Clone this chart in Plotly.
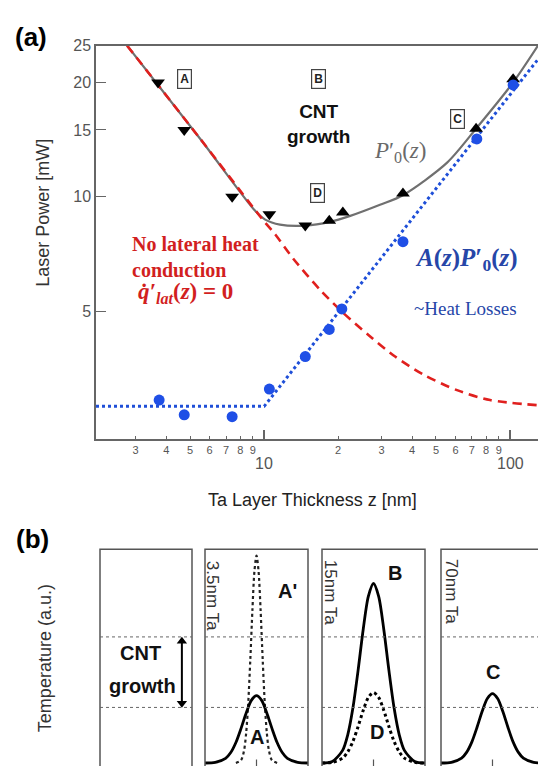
import plotly.graph_objects as go

W, H = 538, 766
SANS = "Liberation Sans, Arial, sans-serif"
SERIF = "Liberation Serif, Times New Roman, serif"

# ---------------- Panel (a) data ----------------
down_x = [3.7, 4.73, 7.41, 10.5, 14.7]
down_y = [20.0, 15.0, 10.0, 9.0, 8.4]
up_x = [18.4, 20.9, 36.7, 72.8, 103.0]
up_y = [8.65, 9.1, 10.2, 15.1, 20.4]
blue_x = [3.74, 4.73, 7.41, 10.5, 14.7, 18.4, 20.7, 36.7, 73.3, 103.0]
blue_y = [2.92, 2.67, 2.64, 3.12, 3.80, 4.48, 5.07, 7.62, 14.2, 19.7]
p0_x = [2.77, 5.5, 9.19, 10.1, 11.6, 14.7, 18.5, 22.4, 29.6, 36.7, 55.5, 73.3, 103.0, 130.0]
p0_y = [25.0, 14.2, 9.19, 8.71, 8.45, 8.40, 8.59, 8.91, 9.53, 10.1, 12.3, 15.2, 20.0, 25.0]
nolat_x = [2.77, 5.5, 9.81, 11.1, 13.1, 16.9, 20.7, 27.0, 34.1, 44.3, 60.9, 83.0, 130.0]
nolat_y = [25.0, 14.2, 8.75, 7.96, 6.89, 5.69, 4.99, 4.29, 3.80, 3.41, 3.10, 2.92, 2.83]
loss_x = [2.07, 10.0, 130.0]
loss_y = [2.81, 2.81, 23.0]

x_minor_vals = [3, 4, 5, 6, 7, 8, 9, 20, 30, 40, 50, 60, 70, 80, 90]
x_minor_text = ["3", "4", "5", "6", "7", "8", "9", "2", "3", "4", "5", "6", "7", "8", "9"]
x_major_vals = [10, 100]
y_tick_vals = [5, 10, 15, 20, 25]

# ---------------- Panel (b) data ----------------
temp_x = [0, 10, 20, 25, 30, 35, 40, 45, 50, 55, 60, 65, 70, 75, 80, 90, 100]
temp_A = [0, 0.3, 2.2, 4.9, 9.6, 16.2, 23.4, 29.3, 31.5, 29.3, 23.4, 16.2, 9.6, 4.9, 2.2, 0.3, 0]
temp_B = [0, 0.7, 5.9, 13.2, 25.7, 43.2, 62.5, 78.0, 84.0, 78.0, 62.5, 43.2, 25.7, 13.2, 5.9, 0.7, 0]
temp_D = [0, 0.3, 2.3, 5.2, 10.1, 17.0, 24.6, 30.7, 33.0, 30.7, 24.6, 17.0, 10.1, 5.2, 2.3, 0.3, 0]
temp_C = [0, 0.3, 2.3, 5.1, 9.9, 16.7, 24.2, 30.2, 32.5, 30.2, 24.2, 16.7, 9.9, 5.1, 2.3, 0.3, 0]
aprime_x = [30, 35, 38, 40, 42, 44, 46, 48, 50, 52, 54, 56, 58, 60, 62, 65, 70]
aprime_y = [0, 1.3, 6.1, 14.2, 28.3, 48.5, 71.3, 89.8, 97.0, 89.8, 71.3, 48.5, 28.3, 14.2, 6.1, 1.3, 0]
growth_levels = [26, 59]
box_center = 50
arrow_x = [89, 89]
arrow_y = [57, 28]


def P(px, py):
    return px / W, 1 - py / H


def dom(a, b):
    return [a / W, min(b / W, 1.0)]


fig = go.Figure()

# --- panel (a) traces ---
fig.add_trace(go.Scatter(x=p0_x, y=p0_y, mode="lines", line=dict(color="#707070", width=2.2, shape="spline", smoothing=0.8), xaxis="x", yaxis="y"))
fig.add_trace(go.Scatter(x=nolat_x, y=nolat_y, mode="lines", line=dict(color="#e0201e", width=2.6, dash="9px,6px", shape="spline", smoothing=0.8), xaxis="x", yaxis="y"))
fig.add_trace(go.Scatter(x=loss_x, y=loss_y, mode="lines", line=dict(color="#1f4fd8", width=3, dash="dot"), xaxis="x", yaxis="y"))
fig.add_trace(go.Scatter(x=down_x, y=down_y, mode="markers", marker=dict(symbol="triangle-down", size=12, color="black"), xaxis="x", yaxis="y"))
fig.add_trace(go.Scatter(x=up_x, y=up_y, mode="markers", marker=dict(symbol="triangle-up", size=12, color="black"), xaxis="x", yaxis="y"))
fig.add_trace(go.Scatter(x=blue_x, y=blue_y, mode="markers", marker=dict(symbol="circle", size=11, color="#1f4fe6"), xaxis="x", yaxis="y"))

# --- panel (b) traces ---
sol = dict(color="black", width=2.8, shape="spline", smoothing=0.8)
fig.add_trace(go.Scatter(x=aprime_x, y=aprime_y, mode="lines", line=dict(color="#222", width=2.2, dash="dot", shape="spline", smoothing=0.8), xaxis="x3", yaxis="y3"))
fig.add_trace(go.Scatter(x=temp_x, y=temp_A, mode="lines", line=sol, xaxis="x3", yaxis="y3"))
fig.add_trace(go.Scatter(x=temp_x, y=temp_D, mode="lines", line=dict(color="black", width=3, dash="dot", shape="spline", smoothing=0.8), xaxis="x4", yaxis="y4"))
fig.add_trace(go.Scatter(x=temp_x, y=temp_B, mode="lines", line=sol, xaxis="x4", yaxis="y4"))
fig.add_trace(go.Scatter(x=temp_x, y=temp_C, mode="lines", line=sol, xaxis="x5", yaxis="y5"))
fig.add_trace(go.Scatter(x=arrow_x, y=arrow_y, mode="lines+markers", line=dict(color="black", width=2),
                         marker=dict(symbol=["triangle-up", "triangle-down"], size=9, color="black"),
                         xaxis="x2", yaxis="y2"))

layout = dict(
    width=W, height=H, margin=dict(l=0, r=0, t=0, b=0),
    paper_bgcolor="white", plot_bgcolor="white", showlegend=False,
    xaxis=dict(type="log", domain=dom(96, 538), range=[0.316, 2.114], anchor="y",
               tickmode="array", tickvals=x_minor_vals, ticktext=x_minor_text,
               ticks="inside", ticklen=4, tickcolor="#666", tickwidth=1,
               tickfont=dict(family=SANS, size=11, color="#555"),
               minor=dict(tickmode="array", tickvals=x_major_vals, ticks="inside", ticklen=10, tickcolor="#666", tickwidth=1.5),
               showline=True, linecolor="#666", linewidth=1.5, mirror=True, showgrid=False, zeroline=False),
    yaxis=dict(type="log", domain=[1 - 436 / H, 1 - 38 / H], range=[0.3617, 1.3979], anchor="x",
               tickmode="array", tickvals=y_tick_vals, ticktext=[str(v) for v in y_tick_vals],
               ticks="inside", ticklen=10, tickcolor="#666", tickwidth=1.2,
               tickfont=dict(family=SANS, size=16, color="#555"),
               showline=True, linecolor="#666", linewidth=1.5, showgrid=False, zeroline=False),
)

boxes = [(2, 100, 192, 100), (3, 205, 308, 100), (4, 322, 425, 100), (5, 441, 538, 94.2)]
shapes = []
for (k, a, b, xr) in boxes:
    layout["xaxis%d" % k] = dict(domain=dom(a, b), range=[0, xr], anchor="y%d" % k, visible=False)
    layout["yaxis%d" % k] = dict(domain=[0, 1 - 547 / H], range=[-1.4, 100], anchor="x%d" % k, visible=False)
    shapes.append(dict(type="rect", xref="x%d domain" % k, yref="y%d domain" % k,
                       x0=0, x1=1 if k < 5 else 1.2, y0=-0.1, y1=1, line=dict(color="#555", width=1.5)))
    for lv in growth_levels:
        shapes.append(dict(type="line", xref="x%d domain" % k, yref="y%d" % k, x0=0, x1=1, y0=lv, y1=lv,
                           line=dict(color="#666", width=1, dash="dot")))
    if k > 2:
        shapes.append(dict(type="line", xref="x%d" % k, yref="y%d domain" % k, x0=box_center, x1=box_center,
                           y0=0, y1=0.03, line=dict(color="#555", width=1.2)))
layout["shapes"] = shapes

ann = []


def T(px, py, text, size, color="black", family=SANS, angle=0, xanchor="center", align="center", **kw):
    x, y = P(px, py)
    d = dict(x=x, y=y, xref="paper", yref="paper", text=text, showarrow=False, textangle=angle,
             xanchor=xanchor, yanchor="middle", align=align, font=dict(family=family, size=size, color=color))
    d.update(kw)
    ann.append(d)


T(31, 29, "<b>(a)</b>", 26)
T(32, 537, "<b>(b)</b>", 26)
T(43, 207, "Laser Power [mW]", 18, "#333", angle=-90)
T(312, 497, "Ta Layer Thickness z [nm]", 18, "#222")
T(264, 460, "10", 16, "#555")
T(510, 460, "100", 16, "#555")
for (px, py, s) in [(184, 72, "A"), (318, 72, "B"), (457, 112, "C"), (317, 187, "D")]:
    T(px, py, "<b>%s</b>" % s, 12, "#222", bordercolor="#444", borderwidth=1.2, borderpad=2, bgcolor="white")
T(318, 117, "<b>CNT<br>growth</b>", 19, "#111")
T(400, 146, "<i>P</i>′<sub>0</sub>(<i>z</i>)", 23, "#6a6a6a", family=SERIF)
T(130, 252, "<b>No lateral heat<br>conduction</b>", 20, "#d21f1f", family=SERIF, xanchor="left", align="left")
T(136, 288, "<b><i>q̇′</i><sub><i>lat</i></sub>(<i>z</i>) = 0</b>", 23, "#d21f1f", family=SERIF, xanchor="left")
T(466, 254, "<b><i>A</i>(<i>z</i>)<i>P</i>′<sub>0</sub>(<i>z</i>)</b>", 25, "#2646a8", family=SERIF)
T(465, 304, "~Heat Losses", 19, "#2646a8", family=SERIF)

T(45, 657, "Temperature (a.u.)", 18, "#333", angle=-90)
T(140, 652, "<b>CNT</b>", 20, "#111")
T(142, 685, "<b>growth</b>", 20, "#111")
T(212, 594, "3.5nm Ta", 17, "#333", angle=90)
T(330, 590, "15nm Ta", 17, "#333", angle=90)
T(451, 589, "70nm Ta", 17, "#333", angle=90)
T(287, 589, "<b>A'</b>", 20, "#111")
T(257, 737, "<b>A</b>", 20, "#111")
T(395, 571, "<b>B</b>", 20, "#111")
T(377, 732, "<b>D</b>", 20, "#111")
T(493, 671, "<b>C</b>", 20, "#111")

layout["annotations"] = ann
fig.update_layout(**layout)
fig.write_html("out.html", config={"displayModeBar": False},
               post_script="document.body.style.margin='0';document.body.style.overflow='hidden';")
